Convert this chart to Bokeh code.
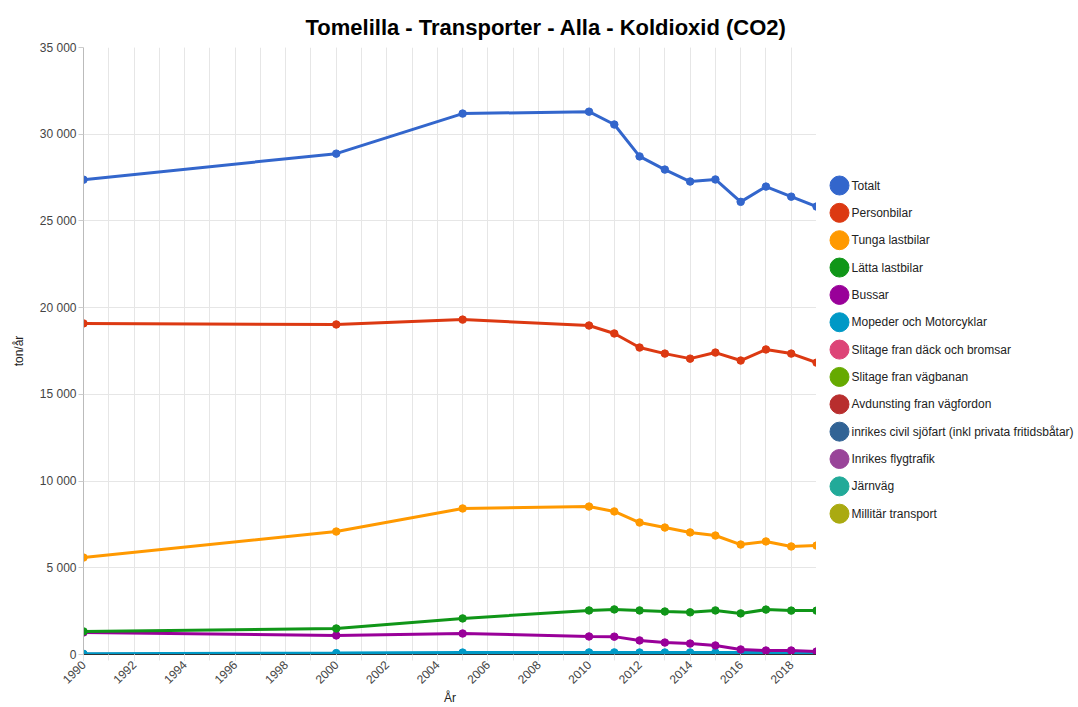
import math
from bokeh.plotting import figure
from bokeh.layouts import row
from bokeh.models import Range1d, SingleIntervalTicker, FixedTicker, CustomJSTickFormatter, ColumnDataSource
from bokeh.core.properties import value
from bokeh.embed import file_html
from bokeh.resources import INLINE

years = [1990, 2000, 2005, 2010, 2011, 2012, 2013, 2014, 2015, 2016, 2017, 2018, 2019]

totalt = [27380, 28880, 31190, 31300, 30560, 28720, 27960, 27270, 27390, 26100, 26980, 26400, 25830]
personbilar = [19090, 19030, 19310, 18970, 18510, 17700, 17350, 17060, 17410, 16950, 17590, 17350, 16830]
tunga = [5590, 7090, 8420, 8530, 8250, 7610, 7320, 7040, 6860, 6340, 6520, 6230, 6280]
latta = [1330, 1500, 2080, 2540, 2600, 2540, 2480, 2430, 2540, 2370, 2590, 2530, 2530]
bussar = [1270, 1100, 1210, 1040, 1030, 810, 690, 630, 520, 290, 230, 230, 170]
mopeder = [40, 80, 110, 120, 120, 115, 115, 115, 115, 115, 110, 110, 110]
slitage_dack = [10, 12, 14, 15, 15, 15, 15, 15, 15, 15, 15, 15, 15]

series_names = [
    "Totalt", "Personbilar", "Tunga lastbilar", "Lätta lastbilar", "Bussar",
    "Mopeder och Motorcyklar", "Slitage fran däck och bromsar", "Slitage fran vägbanan",
    "Avdunsting fran vägfordon", "inrikes civil sjöfart (inkl privata fritidsbåtar)",
    "Inrikes flygtrafik", "Järnväg", "Millitär transport",
]
series_values = [totalt, personbilar, tunga, latta, bussar, mopeder, slitage_dack,
                 None, None, None, None, None, None]
colors = ["#3366cc", "#dc3912", "#ff9900", "#109618", "#990099", "#0099c6", "#dd4477",
          "#66aa00", "#b82e2e", "#316395", "#994499", "#22aa99", "#aaaa11"]

y_ticks = [0, 5000, 10000, 15000, 20000, 25000, 30000, 35000]

FONT = "Liberation Sans"
W, H = 1078, 707
FRAME_RIGHT = 816

p = figure(width=FRAME_RIGHT, height=H, output_backend="svg", toolbar_location=None,
           x_range=Range1d(1990, 2019), y_range=Range1d(0, 35000),
           min_border_left=83, min_border_right=0, min_border_top=47, min_border_bottom=53)
p.title.text = "Tomelilla - Transporter - Alla - Koldioxid (CO2)"
p.title.text_font = FONT
p.title.text_font_size = "22px"
p.title.text_font_style = "bold"
p.title.text_color = "#000000"
p.title.align = "left"
p.title.offset = 222
p.title.standoff = 15
p.outline_line_color = None

# draw in reverse so first series is on top
for name, vals, c in reversed(list(zip(series_names, series_values, colors))):
    if vals is None:
        continue
    src = ColumnDataSource(dict(x=years, y=vals))
    p.line("x", "y", source=src, line_color=c, line_width=3)
    p.scatter("x", "y", source=src, fill_color=c, line_color=c, size=7.5)

p.xaxis.ticker = SingleIntervalTicker(interval=2, num_minor_ticks=2)
p.xaxis.major_label_orientation = math.pi / 4
p.xaxis.axis_label = "År"
p.yaxis.axis_label = "ton/år"
p.yaxis.ticker = FixedTicker(ticks=y_ticks)
p.yaxis.formatter = CustomJSTickFormatter(code="return tick.toString().replace(/\\B(?=(\\d{3})+(?!\\d))/g, ' ');")

for ax in (p.xaxis[0], p.yaxis[0]):
    ax.major_label_text_font = FONT
    ax.major_label_text_font_size = "12px"
    ax.major_label_text_color = "#444444"
    ax.axis_label_text_font = FONT
    ax.axis_label_text_font_size = "12px"
    ax.axis_label_text_font_style = "normal"
    ax.axis_label_text_color = "#222222"
    ax.major_tick_in = 0
    ax.minor_tick_in = 0
    ax.major_tick_line_color = "#cccccc"
    ax.minor_tick_line_color = "#e6e6e6"

p.xaxis.axis_line_color = "#333333"
p.xaxis.major_tick_out = 6
p.xaxis.minor_tick_out = 6
p.xaxis.major_label_standoff = 2
p.xaxis.axis_label_standoff = 0
p.yaxis.axis_line_color = "#bbbbbb"
p.yaxis.major_tick_out = 5
p.yaxis.minor_tick_line_color = None
p.yaxis.major_label_standoff = 2
p.yaxis.axis_label_standoff = 11

p.xgrid.grid_line_color = "#e6e6e6"
p.xgrid.minor_grid_line_color = "#e6e6e6"
p.ygrid.grid_line_color = "#e6e6e6"

# legend panel (frame is aligned with the main plot frame: 47..654 px)
leg = figure(width=W - FRAME_RIGHT, height=H, output_backend="svg", toolbar_location=None,
             x_range=Range1d(FRAME_RIGHT, W), y_range=Range1d(654, 47),
             min_border=0)
leg.axis.visible = False
leg.grid.visible = False
leg.outline_line_color = None
n = len(series_names)
ly = [185 + 27.35 * i for i in range(n)]
lsrc = ColumnDataSource(dict(x=[839] * n, y=ly, tx=[851] * n, name=series_names, c=colors))
leg.scatter("x", "y", source=lsrc, size=19, fill_color="c", line_color="c")
leg.text("tx", "y", text="name", source=lsrc, text_font=value(FONT), text_font_size="12px",
         text_color="#222222", text_baseline="middle", text_align="left")

layout = row(p, leg)
open("out.html", "w").write(file_html(layout, INLINE))
